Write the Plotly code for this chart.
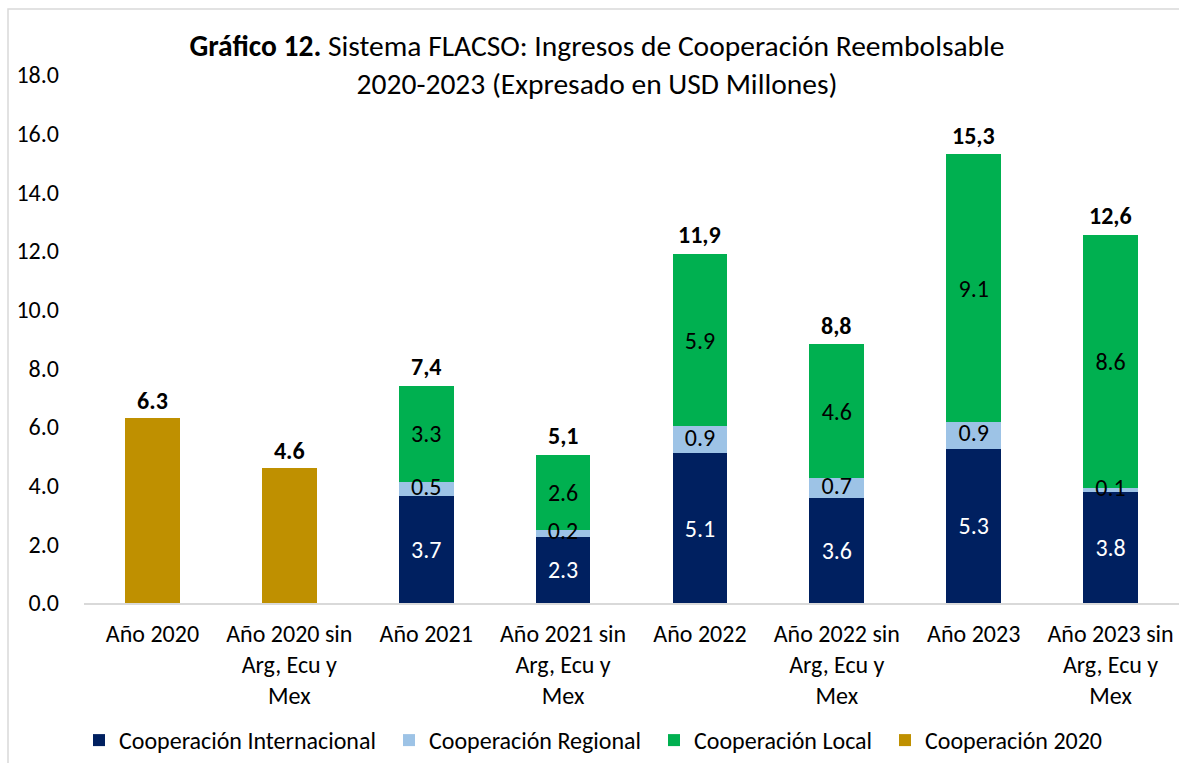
import plotly.graph_objects as go

categories = ["Año 2020", "Año 2020 sin<br>Arg, Ecu y<br>Mex", "Año 2021", "Año 2021 sin<br>Arg, Ecu y<br>Mex",
              "Año 2022", "Año 2022 sin<br>Arg, Ecu y<br>Mex", "Año 2023", "Año 2023 sin<br>Arg, Ecu y<br>Mex"]
coop_2020 = [6.3, 4.6, None, None, None, None, None, None]
coop_internacional = [None, None, 3.66, 2.26, 5.11, 3.58, 5.26, 3.78]
coop_regional = [None, None, 0.48, 0.23, 0.91, 0.68, 0.91, 0.14]
coop_local = [None, None, 3.27, 2.56, 5.88, 4.56, 9.13, 8.64]
total_labels = [None, None, "7,4", "5,1", "11,9", "8,8", "15,3", "12,6"]

FONT = "Carlito, Calibri, Lato, sans-serif"
C_INT = "#002060"
C_REG = "#9DC3E6"
C_LOC = "#00B050"
C_2020 = "#BF9000"
FS = 24

totals, reg_mid, reg_text = [], [], []
for a, b, c in zip(coop_internacional, coop_regional, coop_local):
    if a is None:
        totals.append(None); reg_mid.append(None); reg_text.append(None)
    else:
        totals.append(a + b + c)
        reg_mid.append(a + b / 2)
        reg_text.append(f"{b:.1f}")

fig = go.Figure()
fig.add_trace(go.Bar(
    x=categories, y=coop_internacional, name="Cooperación Internacional", legend="legend",
    marker=dict(color=C_INT, line=dict(width=0)),
    texttemplate="%{y:.1f}", textposition="inside", insidetextanchor="middle",
    textangle=0, constraintext="none",
    textfont=dict(color="white", size=FS, family=FONT)))
fig.add_trace(go.Bar(
    x=categories, y=coop_regional, name="Cooperación Regional", legend="legend2",
    marker=dict(color=C_REG, line=dict(width=0)), textposition="none"))
fig.add_trace(go.Bar(
    x=categories, y=coop_local, name="Cooperación Local", legend="legend3",
    marker=dict(color=C_LOC, line=dict(width=0)),
    texttemplate="%{y:.1f}", textposition="inside", insidetextanchor="middle",
    textangle=0, constraintext="none",
    textfont=dict(color="black", size=FS, family=FONT)))
fig.add_trace(go.Bar(
    x=categories, y=coop_2020, name="Cooperación 2020", legend="legend4",
    marker=dict(color=C_2020, line=dict(width=0)),
    texttemplate="<b>%{y:.1f}</b>", textposition="outside",
    textangle=0, constraintext="none", cliponaxis=False,
    textfont=dict(color="black", size=FS, family=FONT)))
fig.add_trace(go.Scatter(
    x=categories, y=reg_mid, text=reg_text, mode="text",
    textposition="middle center", showlegend=False, cliponaxis=False,
    textfont=dict(color="black", size=FS, family=FONT)))

annotations = []
for cat, tot, lab in zip(categories, totals, total_labels):
    if tot is None:
        continue
    annotations.append(dict(x=cat, y=tot, xref="x", yref="y", text=f"<b>{lab}</b>",
                            showarrow=False, yanchor="middle", yshift=19,
                            font=dict(size=FS, family=FONT, color="black")))

def legend_at(px_left):
    return dict(orientation="h", x=px_left / 1179, xanchor="left", xref="container",
                y=1 - 718 / 763, yanchor="top", yref="container",
                font=dict(size=FS, family=FONT), itemwidth=30,
                bgcolor="rgba(0,0,0,0)")

fig.update_layout(
    width=1179, height=763,
    barmode="stack", bargap=0.6,
    plot_bgcolor="white", paper_bgcolor="white",
    margin=dict(l=84, r=0, t=75, b=160, autoexpand=False),
    font=dict(family=FONT, size=FS, color="black"),
    title=dict(
        text="<b>Gráfico 12.</b> Sistema FLACSO: Ingresos de Cooperación Reembolsable<br>2020-2023 (Expresado en USD Millones)",
        x=597 / 1179, xanchor="center", xref="container",
        y=1 - 56 / 763, yanchor="top", yref="container",
        font=dict(size=29.5, family=FONT, color="black")),
    xaxis=dict(showgrid=False, showline=True, linecolor="#D9D9D9", linewidth=2,
               ticks="", tickfont=dict(size=FS, family=FONT), ticklabelstandoff=8,
               automargin=False),
    yaxis=dict(range=[0, 18], dtick=2, tickformat=".1f", showgrid=False,
               zeroline=False, showline=False, ticks="",
               tickfont=dict(size=FS, family=FONT), ticklabelstandoff=24,
               automargin=False),
    legend=legend_at(79),
    legend2=legend_at(389),
    legend3=legend_at(654),
    legend4=legend_at(885),
    annotations=annotations,
    shapes=[dict(type="rect", xref="paper", yref="paper",
                 x0=(8 - 84) / 1095, x1=1.05, y0=-0.4, y1=(603 - 9) / 528,
                 line=dict(color="#D9D9D9", width=1.5), fillcolor="rgba(0,0,0,0)",
                 layer="below")],
)

fig.write_html("out.html", config={"displayModeBar": False},
               post_script="document.body.style.margin='0px';")
